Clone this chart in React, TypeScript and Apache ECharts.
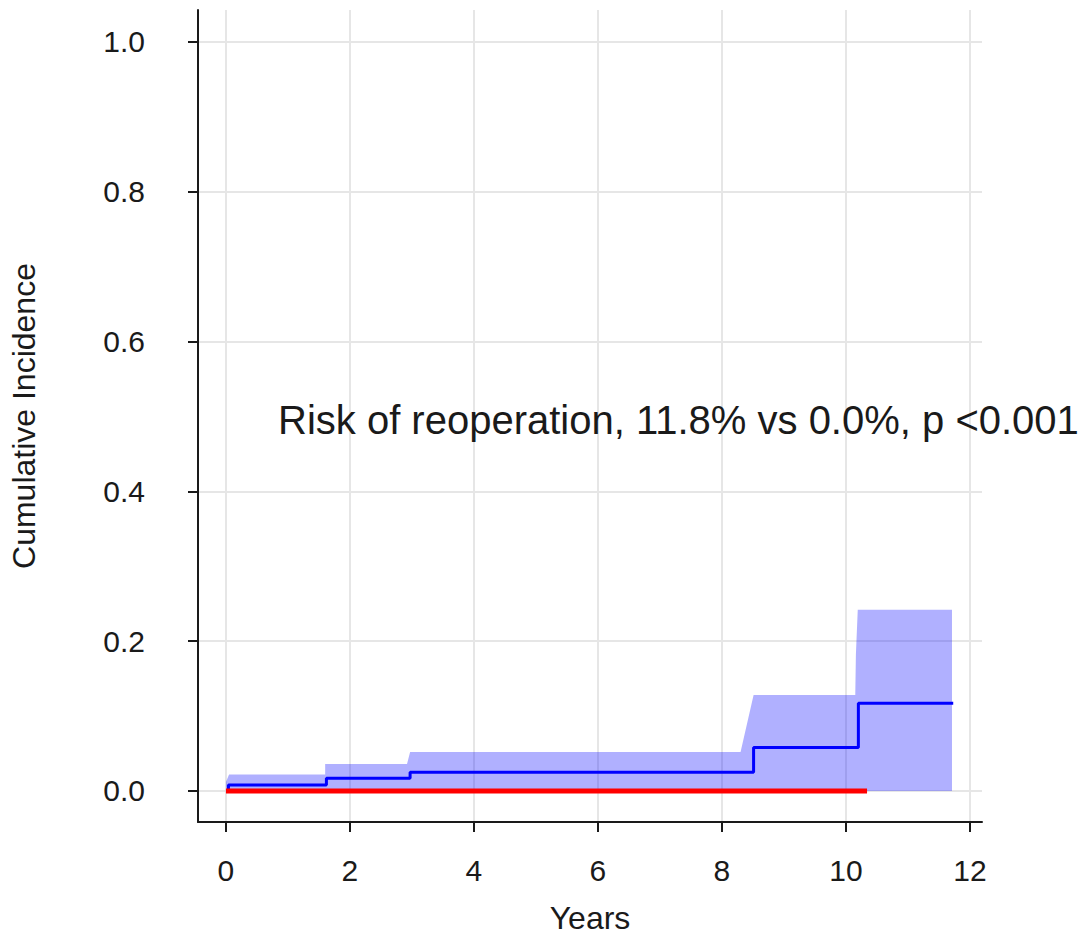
import React, { useEffect, useRef } from "react";
import * as echarts from "echarts";

// Axis ticks
const xTicks = [0, 2, 4, 6, 8, 10, 12];
const yTicks = [0, 0.2, 0.4, 0.6, 0.8, 1.0];

// Group 1 (blue) cumulative incidence step curve
const blueTimes = [0, 0.04, 1.62, 2.97, 8.51, 10.2, 11.73];
const blueCI = [0, 0.008, 0.017, 0.025, 0.058, 0.117, 0.117];

// Group 1 confidence band upper limit (lower limit is 0)
const bandTimes = [0, 0.05, 1.6, 1.6, 2.92, 2.97, 8.3, 8.51, 10.15, 10.16, 10.19, 11.71];
const bandUpper = [0.012, 0.022, 0.022, 0.036, 0.036, 0.052, 0.052, 0.128, 0.128, 0.182, 0.242, 0.242];

// Group 2 (red) cumulative incidence
const redTimes = [0, 10.34];
const redCI = [0, 0];

const annotation = "Risk of reoperation, 11.8% vs 0.0%, p <0.001";

const zip = (xs: number[], ys: number[]) => xs.map((x, i) => [x, ys[i]]);

export default function App() {
  const ref = useRef<HTMLDivElement>(null);
  useEffect(() => {
    const chart = echarts.init(ref.current!, null, { renderer: "svg" });
    const font = "'Liberation Sans', Arial, Helvetica, sans-serif";
    const txt = "#1a1a1a";
    chart.setOption({
      animation: false,
      backgroundColor: "#ffffff",
      grid: { left: 197, right: 109, top: 10, bottom: 120, containLabel: false },
      xAxis: {
        type: "value",
        min: -0.451,
        max: 12.194,
        name: "Years",
        nameLocation: "middle",
        nameGap: 80,
        nameTextStyle: { fontSize: 32, color: txt, fontFamily: font },
        axisLine: { onZero: false, lineStyle: { color: txt, width: 2 } },
        axisTick: { customValues: xTicks, length: 10, lineStyle: { color: txt, width: 2 } },
        axisLabel: { customValues: xTicks, margin: 33, fontSize: 30, color: txt, fontFamily: font },
        splitLine: { show: true, lineStyle: { color: "#e6e6e6", width: 2 } },
      },
      yAxis: {
        type: "value",
        min: -0.0414,
        max: 1.0427,
        name: "Cumulative Incidence",
        nameLocation: "middle",
        nameGap: 158,
        nameTextStyle: { fontSize: 32, color: txt, fontFamily: font },
        axisLine: { onZero: false, lineStyle: { color: txt, width: 2 } },
        axisTick: { customValues: yTicks, length: 10, lineStyle: { color: txt, width: 2 } },
        axisLabel: {
          customValues: yTicks,
          margin: 53,
          fontSize: 30,
          color: txt,
          fontFamily: font,
          formatter: (v: number) => v.toFixed(1),
        },
        splitLine: { show: true, lineStyle: { color: "#e6e6e6", width: 2 } },
      },
      series: [
        {
          type: "line",
          data: zip(bandTimes, bandUpper),
          showSymbol: false,
          lineStyle: { width: 0, opacity: 0 },
          areaStyle: { color: "rgba(0,0,255,0.31)", opacity: 1, origin: 0 },
          z: 1,
        },
        {
          type: "line",
          step: "end",
          data: zip(blueTimes, blueCI),
          showSymbol: false,
          lineStyle: { color: "#0000ff", width: 3 },
          z: 2,
        },
        {
          type: "line",
          data: zip(redTimes, redCI),
          showSymbol: false,
          lineStyle: { color: "#ff0000", width: 5 },
          z: 3,
        },
      ],
      graphic: [
        {
          type: "text",
          x: 278,
          y: 420,
          z: 100,
          style: {
            text: annotation,
            fontSize: 40,
            fontFamily: font,
            fill: txt,
            align: "left",
            verticalAlign: "middle",
          },
        },
      ],
    });
    return () => chart.dispose();
  }, []);
  return (
    <div
      ref={ref}
      style={{ position: "fixed", left: 0, top: 0, width: 1091, height: 942, background: "#fff" }}
    />
  );
}
